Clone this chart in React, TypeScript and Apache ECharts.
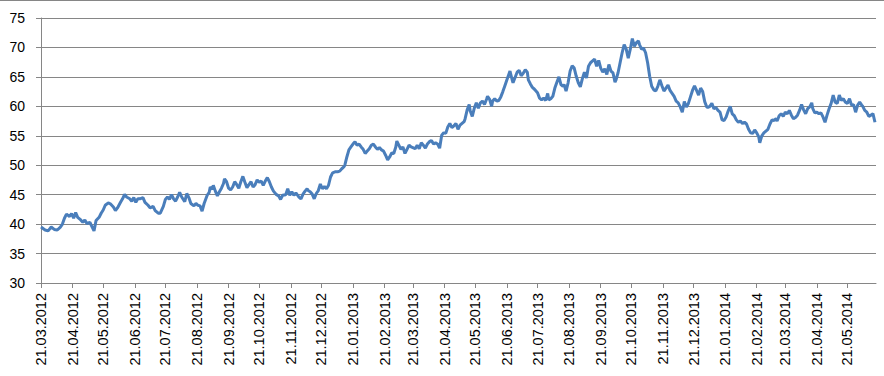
import React, { useEffect, useRef } from "react";
import * as echarts from "echarts";

// Observation dates as day offsets from 21.03.2012, and their values
const startDateUTC = [2012, 2, 21];
const totalDays = 820;
const yMin = 30;
const yMax = 75;
const yStep = 5;

const dayOffsets = [
  0, 4, 7, 10, 13, 16, 19, 21, 23, 25, 28, 30, 32, 34, 36, 39, 41, 43, 45, 48, 49, 52, 54, 57, 59, 61, 63, 66, 68, 71, 73, 75, 78, 80, 82, 84, 87, 89, 91, 93, 95, 97, 100, 102, 105, 107, 110, 112, 115, 117, 120, 122,
  124, 126, 128, 130, 132, 134, 136, 138, 141, 143, 145, 147, 150, 152, 154, 156, 158, 160, 163, 165, 166, 168, 169, 171, 173, 175, 177, 179, 180, 182, 184, 186, 188, 190, 192, 194, 196, 198, 200, 202, 204, 206, 208, 210, 212, 214, 216, 218, 220, 222, 224, 226, 228, 231, 233, 235, 237, 240,
  242, 244, 246, 248, 250, 253, 255, 257, 259, 261, 262, 264, 266, 268, 270, 272, 274, 276, 278, 280, 282, 284, 286, 289, 291, 293, 295, 297, 298, 300, 302, 304, 306, 308, 310, 312, 314, 316, 318, 320, 322, 324, 326, 328, 330, 332, 334, 336, 338, 340, 342, 344, 346, 348, 349, 351, 353, 355, 357, 359, 361, 363,
  367, 369, 371, 373, 375, 377, 379, 381, 383, 385, 387, 389, 391, 393, 395, 397, 399, 401, 403, 405, 407, 409, 411, 413, 415, 416, 418, 420, 421, 423, 425, 427, 429, 431, 433, 435, 437, 438, 440, 442, 443, 445, 447, 449, 451, 453, 455, 457, 459, 460, 462, 463, 465, 467, 469, 471, 473, 475, 477, 478, 480, 482, 484,
  487, 489, 491, 493, 495, 497, 498, 500, 502, 504, 506, 508, 510, 512, 513, 515, 517, 519, 521, 523, 525, 527, 529, 531, 533, 535, 537, 539, 541, 543, 545, 547, 549, 551, 553, 555, 557, 559, 561, 563, 564, 566, 568, 570, 572, 574, 576, 578, 580, 582, 584, 586, 587, 589, 591, 593, 595, 597, 599, 601, 603, 605, 607, 609, 611,
  613, 615, 617, 619, 621, 623, 625, 627, 629, 631, 633, 635, 637, 639, 641, 643, 645, 647, 649, 651, 653, 654, 656, 658, 660, 662, 664, 666, 668, 670, 672, 674, 676, 678, 680, 682, 684, 686, 688, 690, 692, 694, 696, 698, 700, 702, 704, 705, 707, 709, 711, 713, 715, 717, 719, 721, 722, 724,
  726, 728, 730, 732, 734, 736, 738, 740, 742, 744, 746, 748, 750, 752, 754, 756, 757, 759, 761, 763, 765, 767, 769, 771, 773, 775, 777, 779, 781, 783, 785, 787, 789, 791, 793, 795, 797, 799, 801, 803, 805, 806, 808, 810, 812, 814, 816, 818,
];

const values = [
  39.5, 39.0, 38.85, 39.5, 39.1, 39.0, 39.5, 40.0, 41.0, 41.7, 41.3, 41.8, 41.0, 41.95, 41.15, 40.7, 40.3, 40.7, 40.1, 40.3, 39.9, 38.85, 40.6, 41.15, 41.85, 42.4, 43.2, 43.6, 43.45, 42.9, 42.3, 42.75, 43.7, 44.3, 45.05, 44.6, 44.3, 43.9, 44.5, 43.7, 44.3, 44.3, 44.5, 43.7, 43.2, 42.75, 43.0, 42.3, 41.85, 41.85, 43.0, 44.2,
  44.6, 44.2, 45.0, 44.3, 43.9, 44.6, 45.4, 44.6, 43.8, 45.2, 44.5, 43.5, 43.1, 43.5, 43.2, 43.1, 42.2, 43.5, 44.9, 45.4, 46.3, 45.9, 46.6, 45.6, 44.8, 45.5, 46.1, 46.9, 47.7, 47.2, 46.1, 45.8, 46.3, 47.2, 46.7, 46.1, 47.2, 48.1, 47.1, 46.2, 46.7, 47.2, 46.3, 46.7, 47.5, 47.1, 47.3, 46.6, 47.3, 47.9, 47.2, 46.3, 45.6, 45.0, 44.8, 44.2, 44.9, 45.0,
  46.0, 44.9, 45.5, 44.9, 45.3, 44.6, 44.3, 45.1, 45.6, 46.0, 45.7, 45.5, 45.1, 44.3, 45.2, 45.7, 46.8, 46.0, 46.4, 46.0, 46.6, 48.0, 48.7, 48.9, 48.9, 49.0, 49.4, 49.7, 50.0, 51.4, 52.6, 53.1, 53.6, 54.0, 53.4, 53.6, 53.1, 52.7, 52.0, 52.4, 52.8, 53.4, 53.6, 53.1, 52.7, 53.0, 52.6, 52.4, 51.7, 50.9, 51.4, 52.1, 52.0, 53.1, 54.1, 53.4, 52.7, 53.1, 52.0, 52.7, 53.4, 53.1,
  52.8, 53.4, 52.8, 53.8, 53.4, 52.9, 53.6, 54.0, 54.2, 53.6, 53.8, 53.6, 52.9, 55.1, 55.5, 55.4, 56.5, 57.1, 56.4, 56.7, 57.1, 56.1, 56.8, 57.1, 57.4, 57.9, 59.4, 60.3, 59.2, 58.3, 59.7, 60.6, 59.7, 60.6, 60.9, 60.3, 61.2, 61.7, 61.2, 60.0, 60.9, 61.3, 60.9, 61.0, 61.6, 62.5, 63.5, 64.5, 65.5, 66.0, 64.6, 64.0, 64.9, 65.8, 66.1, 65.2, 65.6, 66.2, 65.8, 64.5, 63.8, 63.2, 62.9,
  62.3, 61.4, 61.1, 61.4, 61.0, 62.2, 61.1, 61.3, 61.7, 63.1, 64.1, 65.0, 63.7, 63.4, 63.7, 62.6, 64.0, 66.0, 66.9, 66.5, 65.1, 64.0, 63.3, 64.7, 65.8, 64.8, 66.8, 67.4, 67.7, 68.0, 66.8, 67.8, 66.5, 65.8, 66.4, 65.4, 67.1, 66.0, 65.7, 64.1, 64.5, 65.7, 67.4, 69.1, 70.5, 69.7, 68.2, 69.7, 71.5, 70.2, 70.8, 71.1, 70.5, 69.7, 69.9, 69.1, 67.4, 65.1, 63.4, 62.8, 62.6, 63.4, 64.5, 63.5, 62.6,
  63.1, 63.6, 62.7, 62.2, 61.7, 60.9, 60.6, 59.9, 59.0, 60.8, 59.9, 60.5, 61.6, 62.7, 63.5, 62.7, 61.9, 63.1, 62.5, 60.8, 59.9, 59.8, 60.0, 60.5, 59.6, 59.8, 59.3, 59.0, 57.7, 57.6, 58.2, 59.2, 60.0, 58.7, 58.4, 57.7, 57.3, 57.5, 57.1, 57.3, 57.0, 56.1, 55.5, 55.4, 56.0, 55.5, 54.8, 53.8, 55.0, 55.5, 55.8, 56.1, 57.0, 57.7, 57.6, 57.9, 57.5, 58.4,
  58.75, 58.3, 59.0, 58.75, 59.3, 58.5, 57.9, 58.1, 58.5, 59.3, 60.3, 59.4, 58.75, 59.6, 59.9, 60.6, 59.6, 58.9, 59.0, 58.75, 58.9, 58.2, 57.3, 58.5, 59.6, 60.5, 61.9, 60.7, 60.5, 61.9, 61.0, 61.3, 60.7, 60.5, 61.3, 60.2, 60.3, 59.0, 60.2, 60.7, 60.2, 60.0, 59.3, 59.0, 58.3, 58.5, 58.75, 57.3,
];

function pad2(n: number): string {
  return n < 10 ? "0" + n : String(n);
}

function buildCategories(): string[] {
  const base = Date.UTC(startDateUTC[0], startDateUTC[1], startDateUTC[2]);
  const out: string[] = [];
  for (let i = 0; i < totalDays; i++) {
    const d = new Date(base + i * 86400000);
    out.push(pad2(d.getUTCDate()) + "." + pad2(d.getUTCMonth() + 1) + "." + d.getUTCFullYear());
  }
  return out;
}

const FONT = "'Liberation Sans', Arial, sans-serif";
const GRID_COLOR = "#868686";

export default function App() {
  const ref = useRef<HTMLDivElement>(null);
  useEffect(() => {
    if (!ref.current) return;
    const chart = echarts.init(ref.current, undefined, { renderer: "svg" });
    const categories = buildCategories();
    const isTickDay = (_i: number, v: string) => v.slice(0, 2) === "21";
    chart.setOption({
      animation: false,
      backgroundColor: "#ffffff",
      grid: { left: 41, right: 8, top: 18, bottom: 93 },
      graphic: [
        {
          type: "line",
          shape: { x1: 0, y1: 0.5, x2: 884, y2: 0.5 },
          style: { stroke: GRID_COLOR, lineWidth: 1 },
        },
      ],
      xAxis: {
        type: "category",
        data: categories,
        boundaryGap: false,
        axisLine: { show: true, lineStyle: { color: GRID_COLOR, width: 1 } },
        axisTick: { show: true, interval: isTickDay, length: 5, lineStyle: { color: GRID_COLOR } },
        axisLabel: {
          interval: isTickDay,
          rotate: 90,
          margin: 10,
          fontFamily: FONT,
          fontSize: 14.5,
          color: "#000000",
        },
        splitLine: { show: false },
      },
      yAxis: {
        type: "value",
        min: yMin,
        max: yMax,
        interval: yStep,
        axisLine: { show: true, lineStyle: { color: GRID_COLOR, width: 1 } },
        axisTick: { show: true, length: 5, lineStyle: { color: GRID_COLOR } },
        axisLabel: { margin: 16, fontFamily: FONT, fontSize: 14, color: "#000000" },
        splitLine: { show: true, lineStyle: { color: GRID_COLOR, width: 1 } },
      },
      series: [
        {
          type: "line",
          data: dayOffsets.map((d, i) => [d, values[i]]),
          showSymbol: false,
          symbol: "none",
          lineStyle: { color: "#4a7ebb", width: 3 },
          itemStyle: { color: "#4a7ebb" },
        },
      ],
    });
    return () => chart.dispose();
  }, []);
  return (
    <div
      ref={ref}
      style={{ position: "fixed", left: 0, top: 0, width: 884, height: 376, background: "#fff" }}
    />
  );
}
